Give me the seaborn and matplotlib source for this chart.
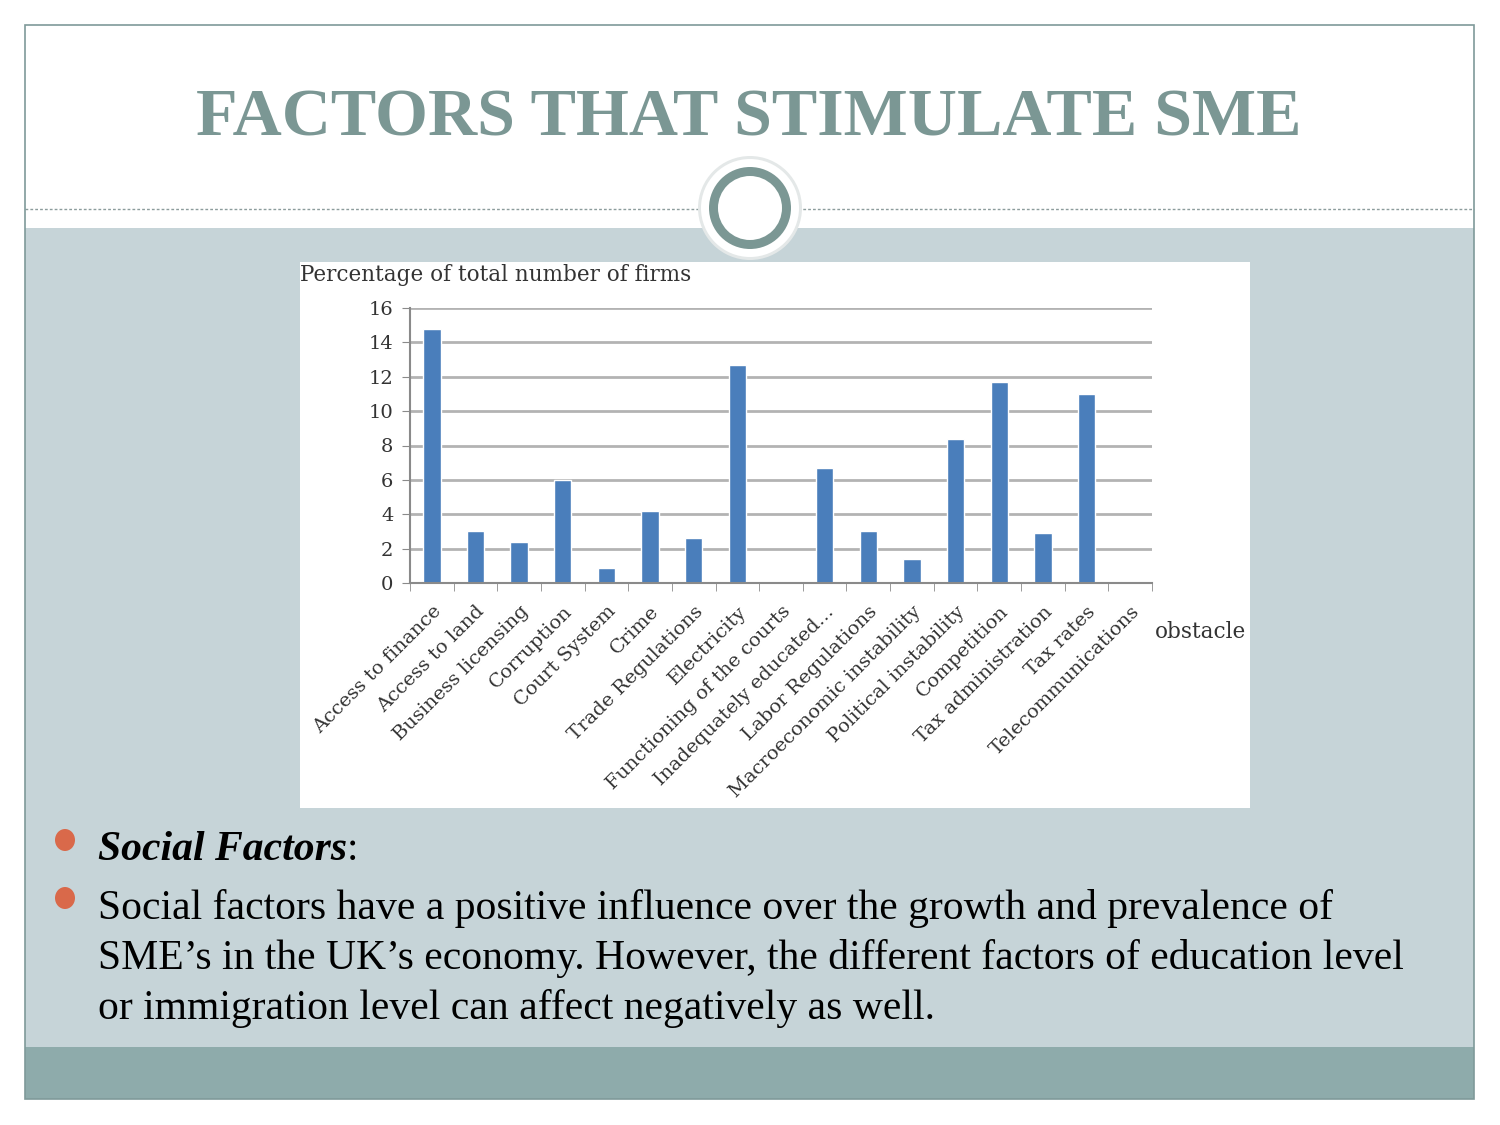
import matplotlib
matplotlib.use('Agg')
import matplotlib.pyplot as plt
import matplotlib.patches as mpatches
import seaborn as sns
import pandas as pd

obstacles = ['Access to finance', 'Access to land', 'Business licensing', 'Corruption',
             'Court System', 'Crime', 'Trade Regulations', 'Electricity',
             'Functioning of the courts', 'Inadequately educated...', 'Labor Regulations',
             'Macroeconomic instability', 'Political instability', 'Competition',
             'Tax administration', 'Tax rates', 'Telecommunications']
pct_firms = [14.8, 3.0, 2.4, 6.0, 0.9, 4.2, 2.6, 12.7, 0.0, 6.7, 3.0, 1.4, 8.4, 11.7, 2.9, 11.0, 0.1]
y_ticks = [0, 2, 4, 6, 8, 10, 12, 14, 16]

title = 'FACTORS THAT STIMULATE SME'
bullet_head = 'Social Factors'
body_lines = ['Social factors have a positive influence over the growth and prevalence of',
              'SME\u2019s in the UK\u2019s economy. However, the different factors of education level',
              'or immigration level can affect negatively as well.']

W, H = 1500, 1125
sns.set_style('white')
plt.rcParams['font.family'] = ['Liberation Serif', 'DejaVu Serif']
chart_font = ['DejaVu Serif']

fig = plt.figure(figsize=(15, 11.25), dpi=100)
fig.patch.set_facecolor('white')


def fx(px):
    return px / W


def fy(py):
    return 1 - py / H


def rect(x0, y0, x1, y1, **kw):
    r = mpatches.Rectangle((fx(x0), fy(y1)), fx(x1 - x0), (y1 - y0) / H,
                           transform=fig.transFigure, **kw)
    fig.patches.append(r)


# slide background
rect(25, 228, 1474, 1047, facecolor='#c6d4d8', edgecolor='none', zorder=0)
rect(25, 1047, 1474, 1099, facecolor='#8eabab', edgecolor='none', zorder=0)
rect(25, 25, 1474, 1099, facecolor='none', edgecolor='#7f9a99', lw=1.2, zorder=1)
fig.add_artist(plt.Line2D([fx(25), fx(1474)], [fy(209), fy(209)], transform=fig.transFigure,
                          color='#8c9c9c', lw=1, ls=(0, (2, 1.5)), zorder=1))

# circle ornament
for r_px, fc, z in [(52, '#e4e8e8', 2), (49, 'white', 3), (41, '#7b9794', 4), (32, 'white', 5)]:
    e = mpatches.Ellipse((fx(750), fy(208)), 2 * r_px / W, 2 * r_px / H,
                         transform=fig.transFigure, facecolor=fc, edgecolor='none', zorder=z)
    fig.patches.append(e)

fig.text(fx(749), fy(119), title, ha='center', va='center', fontsize=49, fontweight='bold',
         color='#7b9794')

# white chart panel
rect(300, 262, 1250, 808, facecolor='white', edgecolor='none', zorder=2)

df = pd.DataFrame({'obstacle': obstacles, 'pct': pct_firms})
ax = fig.add_axes([fx(410), fy(583), fx(1152 - 410), (583 - 308) / H], zorder=5)
ax.set_facecolor('none')
sns.barplot(data=df, x='obstacle', y='pct', color='#4a7ebb', width=0.4, saturation=1, ax=ax)
ax.set_ylim(0, 16)
ax.set_xlim(-0.5, len(obstacles) - 0.5)
ax.set_yticks(y_ticks)
ax.set_yticklabels([str(v) for v in y_ticks], family=chart_font, fontsize=14, color='#333333')
ax.yaxis.grid(True, color='#b3b3b3', lw=2)
ax.set_axisbelow(True)
for s in ['top', 'right']:
    ax.spines[s].set_visible(False)
ax.spines['left'].set_color('#8a8a8a')
ax.spines['bottom'].set_color('#8a8a8a')
ax.spines['left'].set_linewidth(1.5)
ax.spines['bottom'].set_linewidth(1.5)
ax.tick_params(axis='y', length=6, color='#8a8a8a', left=True, pad=6)
ax.set_xticks(range(len(obstacles)))
ax.set_xticklabels(obstacles, rotation=45, ha='right', rotation_mode='anchor',
                   family=chart_font, fontsize=14, color='#333333')
ax.tick_params(axis='x', length=0, pad=14)
ax.set_xticks([i - 0.5 for i in range(len(obstacles) + 1)], minor=True)
ax.tick_params(axis='x', which='minor', length=6, color='#8a8a8a', bottom=True)
ax.set_xlabel('')
ax.set_ylabel('')

fig.text(fx(300), fy(275), 'Percentage of total number of firms', ha='left', va='center',
         family=chart_font, fontsize=15.5, color='#333333', zorder=6)
fig.text(fx(1155), fy(632), 'obstacle', ha='left', va='center', family=chart_font,
         fontsize=15.5, color='#333333', zorder=6)

# bullet text
for by in [840, 898]:
    e = mpatches.Ellipse((fx(65), fy(by)), 20 / W, 22 / H, transform=fig.transFigure,
                         facecolor='#d9694a', edgecolor='none', zorder=6)
    fig.patches.append(e)

t = fig.text(fx(98), fy(850), bullet_head, ha='left', va='center', fontsize=30,
             fontweight='bold', fontstyle='italic', color='black')
fig.canvas.draw()
bb = t.get_window_extent(fig.canvas.get_renderer())
fig.text(bb.x1 / W, fy(850), ':', ha='left', va='center', fontsize=30, color='black')

for i, line in enumerate(body_lines):
    fig.text(fx(98), fy(909 + 50 * i), line, ha='left', va='center', fontsize=30, color='black')

fig.savefig('out.png', dpi=100)
